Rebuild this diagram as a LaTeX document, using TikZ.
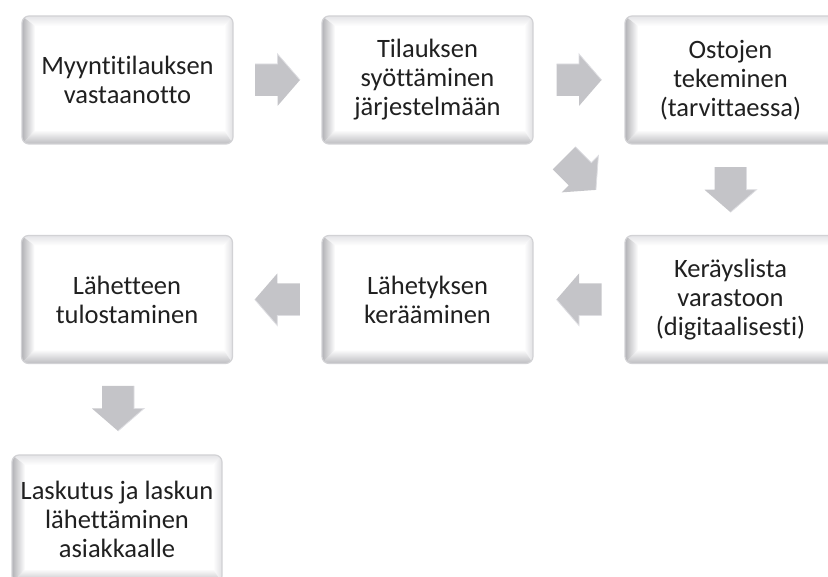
\documentclass[tikz,border=0pt]{standalone}
\usepackage{fontspec}
\setmainfont[Ligatures={NoCommon}]{Carlito}
\usetikzlibrary{calc}
\definecolor{txt}{RGB}{32,32,32}
\definecolor{arr}{RGB}{196,196,200}
\definecolor{arrhi}{RGB}{222,222,226}
\definecolor{edge}{RGB}{210,210,213}
\definecolor{bevL}{RGB}{178,178,182}
\definecolor{bevB}{RGB}{188,188,192}
\definecolor{bevT}{RGB}{228,228,231}
\definecolor{bevR}{RGB}{224,224,227}
\newcommand\blockarr[2]{%
  \fill[arr, sharp corners, shift={(#1)}, rotate=#2]
    (-22.5pt,-16pt) -- (0pt,-16pt) -- (0pt,-26pt) -- (22.5pt,0pt)
    -- (0pt,26pt) -- (0pt,16pt) -- (-22.5pt,16pt) -- cycle;
  \draw[arrhi, line width=0.8pt, sharp corners, shift={(#1)}, rotate=#2]
    (-22.5pt,16pt) -- (0pt,16pt) -- (0pt,26pt) -- (22.5pt,0pt);
}
\begin{document}
\begin{tikzpicture}[x=1pt,y=-1pt,
  box/.style={rounded corners=7pt, minimum width=211pt, minimum height=128pt,
    inner sep=0pt, align=center, text=txt,
    fill=white, draw=edge, line width=1.2pt,
    path picture={
      \path (path picture bounding box.north west) coordinate (pNW)
            (path picture bounding box.north east) coordinate (pNE)
            (path picture bounding box.south west) coordinate (pSW)
            (path picture bounding box.south east) coordinate (pSE);
      \shade[sharp corners, top color=bevT, bottom color=white]
        (pNW) -- (pNE) -- ([shift={(-9pt,-10pt)}]pNE) -- ([shift={(13pt,-10pt)}]pNW) -- cycle;
      \shade[sharp corners, right color=bevR, left color=white]
        (pNE) -- (pSE) -- ([shift={(-9pt,14pt)}]pSE) -- ([shift={(-9pt,-10pt)}]pNE) -- cycle;
      \shade[sharp corners, bottom color=bevB, top color=white]
        (pSW) -- (pSE) -- ([shift={(-9pt,14pt)}]pSE) -- ([shift={(13pt,14pt)}]pSW) -- cycle;
      \shade[sharp corners, left color=bevL, right color=white]
        (pNW) -- (pSW) -- ([shift={(13pt,14pt)}]pSW) -- ([shift={(13pt,-10pt)}]pNW) -- cycle;
    }},
  lbl/.style={align=center, text=txt, font=\fontsize{26.5}{29}\selectfont, inner sep=0pt}
]
\path[use as bounding box] (0,0) rectangle (828,577);
\clip (0,0) rectangle (828,577);

% boxes
\node[box] (b1) at (127.5,80) {};
\node[box] (b2) at (427.5,80) {};
\node[box] (b3) at (730.5,80) {};
\node[box] (b4) at (730.5,299.5) {};
\node[box] (b5) at (427.5,299.5) {};
\node[box] (b6) at (127,299.5) {};
\node[box, minimum width=210pt] (b7) at (117,519) {};

% labels
\node[lbl] (t1) at (b1.center) {Myyntitilauksen\\vastaanotto};
\node[lbl] (t2) at (b2.center) {Tilauksen\\syöttäminen\\järjestelmään};
\node[lbl] (t3) at (b3.center) {Ostojen\\tekeminen\\(tarvittaessa)};
\node[lbl] (t4) at (b4.center) {Keräyslista\\varastoon\\(digitaalisesti)};
\node[lbl] (t5) at (b5.center) {Lähetyksen\\kerääminen};
\node[lbl] (t6) at (b6.center) {Lähetteen\\tulostaminen};
\node[lbl] (t7) at (b7.center) {Laskutus ja laskun\\lähettäminen\\asiakkaalle};

% arrow centres
\coordinate (a12) at ($(b1.east)!0.5!(b2.west)$);
\coordinate (a23) at ($(b2.east)!0.5!(b3.west)$);
\coordinate (a25) at (580,174);
\coordinate (a34) at ($(b3.south)!0.5!(b4.north)$);
\coordinate (a45) at ($(b5.east)!0.5!(b4.west)$);
\coordinate (a56) at ($(b6.east)!0.5!(b5.west)$);
\coordinate (a67) at (118,408.5);

\blockarr{a12}{0}
\blockarr{a23}{0}
\blockarr{a25}{-45}
\blockarr{a34}{-90}
\blockarr{a45}{180}
\blockarr{a56}{180}
\blockarr{a67}{-90}
\end{tikzpicture}
\end{document}
